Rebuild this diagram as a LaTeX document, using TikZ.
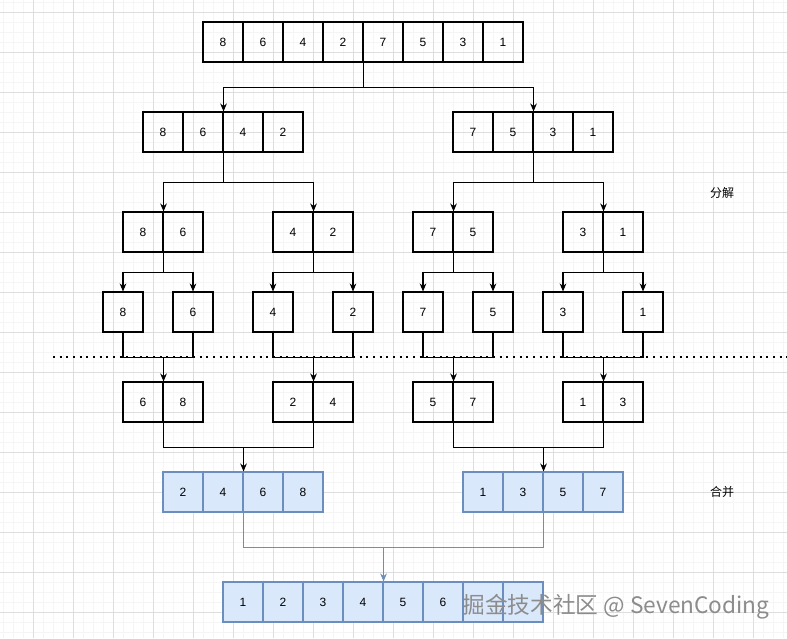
\documentclass[tikz,border=0pt]{standalone}
\usepackage{fontspec}
\setmainfont{Liberation Sans}
\newfontfamily\cjk{Noto Sans CJK SC}
\usetikzlibrary{arrows.meta}
\definecolor{boxblue}{HTML}{DAE8FC}
\definecolor{edgeblue}{HTML}{6C8EBF}
\tikzset{->/.style = {-{Stealth[length=6pt,width=5pt]}},
         cell/.style = {draw, line width=0.8pt, minimum size=30pt, inner sep=0pt,
                        font=\fontsize{9}{11}\selectfont},
         bcell/.style = {cell, draw=edgeblue, fill=boxblue},
         link/.style = {line width=0.8pt}}

\begin{document}
\begin{tikzpicture}[x=0.75pt, y=-0.75pt]
  \useasboundingbox (0,0) rectangle (787,638);
  \fill[white] (0,0) rectangle (787,638);
  \foreach \g in {3,13,...,783} \draw[black!4] (\g,0) -- (\g,638);
  \foreach \g in {2,12,...,632} \draw[black!4] (0,\g) -- (787,\g);
  \foreach \g in {33,73,...,753} \draw[black!13] (\g,0) -- (\g,638);
  \foreach \g in {12,52,...,612} \draw[black!13] (0,\g) -- (787,\g);
  \draw[line width=1.5pt, dash pattern=on 1.5pt off 3.5pt] (53,357) -- (787,357);

  \foreach \v [count=\i] in {8,6,4,2,7,5,3,1}
    \node[cell] (full\i) at (183+40*\i, 42) {\v};
  \foreach \v [count=\i] in {8,6,4,2}
    \node[cell] (hl\i) at (123+40*\i, 132) {\v};
  \foreach \v [count=\i] in {7,5,3,1}
    \node[cell] (hr\i) at (433+40*\i, 132) {\v};
  \foreach \a/\b/\x [count=\k] in {8/6/143, 4/2/293, 7/5/433, 3/1/583} {
    \node[cell] (qa\k) at (\x, 232) {\a};
    \node[cell] (qb\k) at (\x+40, 232) {\b};
  }
  \foreach \v/\x [count=\i] in {8/123, 6/193, 4/273, 2/353, 7/423, 5/493, 3/563, 1/643}
    \node[cell] (s\i) at (\x, 312) {\v};
  \foreach \a/\b/\x [count=\k] in {6/8/143, 2/4/293, 5/7/433, 1/3/583} {
    \node[cell] (ma\k) at (\x, 402) {\a};
    \node[cell] (mb\k) at (\x+40, 402) {\b};
  }
  \foreach \v [count=\i] in {2,4,6,8}
    \node[bcell] (ml\i) at (143+40*\i, 492) {\v};
  \foreach \v [count=\i] in {1,3,5,7}
    \node[bcell] (mr\i) at (443+40*\i, 492) {\v};
  \foreach \v [count=\i] in {1,2,3,4,5,6,{},{}}
    \node[bcell] (out\i) at (203+40*\i, 602) {\v};

  \draw[link, ->] (full4.south east) -- ++(0,25) -| (hl2.north east);
  \draw[link, ->] (full4.south east) -- ++(0,25) -| (hr2.north east);
  \draw[link, ->] (hl2.south east) -- ++(0,30) -| (qa1.north east);
  \draw[link, ->] (hl2.south east) -- ++(0,30) -| (qa2.north east);
  \draw[link, ->] (hr2.south east) -- ++(0,30) -| (qa3.north east);
  \draw[link, ->] (hr2.south east) -- ++(0,30) -| (qa4.north east);
  \foreach \k [evaluate=\k as \l using int(2*\k-1),
               evaluate=\k as \r using int(2*\k)] in {1,...,4} {
    \draw[link, ->] (qa\k.south east) -- ++(0,20) -| (s\l.north);
    \draw[link, ->] (qa\k.south east) -- ++(0,20) -| (s\r.north);
    \draw[link] (s\l.south) -- ++(0,25) coordinate (j\k) -| (s\r.south);
    \draw[link, ->] (j\k -| ma\k.north east) -- (ma\k.north east);
  }
  \draw[link] (ma1.south east) -- ++(0,25) coordinate (k1) -| (ma2.south east);
  \draw[link, ->] (k1 -| ml2.north east) -- (ml2.north east);
  \draw[link] (ma3.south east) -- ++(0,25) coordinate (k2) -| (ma4.south east);
  \draw[link, ->] (k2 -| mr2.north east) -- (mr2.north east);
  \draw[link, edgeblue] (ml2.south east) -- ++(0,35) coordinate (k3) -| (mr2.south east);
  \draw[link, edgeblue, ->] (k3 -| out4.north east) -- (out4.north east);

  \node[font=\cjk\fontsize{9}{11}\selectfont] (split) at (722,193) {分解};
  \node[font=\cjk\fontsize{9}{11}\selectfont] (merge) at (722,492) {合并};
  \node[font=\cjk\fontsize{17}{20}\selectfont, text=black!45] (mark) at (616,607)
    {掘金技术社区 @ SevenCoding};
\end{tikzpicture}
\end{document}
